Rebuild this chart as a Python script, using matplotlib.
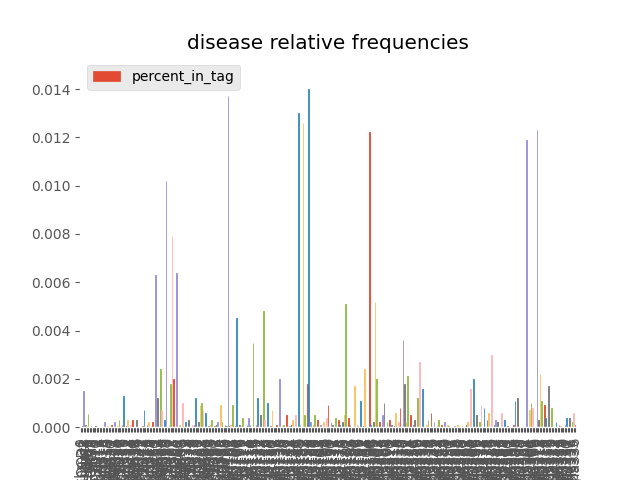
import matplotlib
matplotlib.use('Agg')
import matplotlib.pyplot as plt
import matplotlib.patches as mpatches
import numpy as np

plt.style.use('ggplot')

# relative frequencies, in units of 1e-4
values_e4 = [
    0, 0.5, 15, 1, 0.5, 5.5, 0, 0.5, 0, 0, 0.3, 0, 0.2, 0, 0, 0, 2, 0, 0.5, 0,
    0, 1, 0, 2, 0, 0.5, 3, 0, 1, 13, 0, 0.5, 3, 0, 1, 3, 0, 0, 3, 0,
    0, 0, 0.5, 7, 0, 1, 2, 0, 0.5, 2, 0, 63, 12, 0, 24, 7, 0, 3, 102, 0,
    1, 18, 79, 20, 0, 64, 0, 1, 0, 10, 0, 2, 0, 3, 0, 0, 1, 1, 12, 0,
    2, 9, 10, 7, 0, 6, 0, 0.5, 1, 3, 0, 0.5, 1, 2, 0, 9, 2, 0, 1, 0.5,
    137, 0.5, 1, 9, 0, 0.5, 45, 0, 1, 0.5, 4, 0, 0, 1, 4, 1, 0, 35, 0, 1,
    12, 0, 5, 0, 48, 3, 0, 10, 0, 0.5, 7, 0, 0, 1, 0, 20, 0, 0.5, 1, 0,
    5, 0, 0.5, 1, 3, 0, 5, 0, 130, 1, 0, 126, 5, 0, 18, 140, 2, 0, 1, 5,
    0, 3, 0, 1, 0, 2, 0.5, 4, 9, 0, 2, 1, 0, 4, 0, 3, 1, 0, 2, 5,
    51, 0, 4, 1, 0, 0, 17, 0, 1, 0, 11, 0, 0.5, 24, 0, 0, 122, 1, 0, 2,
    52, 20, 0, 2, 0, 5, 10, 0, 2, 0, 3, 1, 0, 0.5, 6, 0, 2, 8, 0, 36,
    18, 2, 21, 0, 5, 0, 1, 3, 0, 12, 27, 0, 16, 0, 0, 1, 3, 0, 6, 0,
    2, 0, 1, 3, 0, 1, 0, 2, 0, 1, 0.5, 0, 0, 0, 0.5, 0, 1, 0.3, 0, 0.5,
    0, 0.5, 1, 2, 0, 16, 0, 20, 0, 5, 0, 2, 9, 0, 8, 0, 3, 6, 0, 30,
    0, 1, 3, 2, 0, 0, 6, 0, 3, 0, 0.5, 0, 0, 0, 1, 11, 0, 12, 0, 0,
    0, 0, 0, 119, 0, 7, 10, 8, 0, 0, 123, 3, 22, 11, 0, 9, 4, 0, 17, 0,
    8, 0, 0, 2, 0, 1, 0.5, 0, 0, 1, 4, 0, 4, 0, 2, 6, 1,
]
values = np.array(values_e4) * 1e-4

name_pool = ['asthma', 'OCD', 'lupus', 'gout', 'IBS', 'anemia', 'cancer', 'HIV',
             'COPD', 'ALS', 'PTSD', 'ADHD', 'flu', 'acne', 'sepsis', 'mumps']
labels = [name_pool[i % len(name_pool)] + str(i) for i in range(len(values))]

colors = ['#E24A33', '#348ABD', '#988ED5', '#777777', '#FBC15E', '#8EBA42', '#FFB5B8']
bar_colors = [colors[i % len(colors)] for i in range(len(values))]

fig, ax = plt.subplots(figsize=(6.4, 4.8), dpi=100)
fig.patch.set_facecolor('white')
ax.set_facecolor('white')
ax.grid(False)
x = np.arange(len(values))
# thin edges so that sub-pixel bars still show
ax.bar(x, values, width=0.5, color=bar_colors, edgecolor=bar_colors, linewidth=0.6)
ax.set_xlim(-0.5, len(values) - 0.5)
ax.set_ylim(0, 0.0153)
ax.set_xticks(x)
ax.set_xticklabels(labels, rotation=90)
ax.set_xlabel('NOS')
ax.set_title('disease relative frequencies')
ax.legend(handles=[mpatches.Patch(color='#E24A33', label='percent_in_tag')],
          loc='upper left')
fig.savefig('out.png', dpi=100)
